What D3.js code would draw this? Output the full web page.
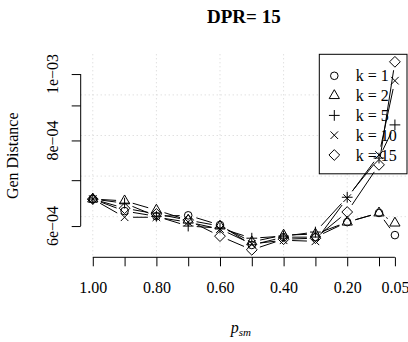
<!DOCTYPE html>
<html>
<head>
<meta charset="utf-8">
<script src="https://cdn.jsdelivr.net/npm/d3@7"></script>
<style>
body { margin: 0; background: #fff; }
svg text { font-family: "Liberation Serif", "Times New Roman", serif; fill: #000; }
</style>
</head>
<body>
<div id="container"></div>
<script>
// p_sm values on the x axis (reversed, 1.00 on the left)
var psm = [1.0, 0.9, 0.8, 0.7, 0.6, 0.5, 0.4, 0.3, 0.2, 0.1, 0.05];
var xTickLabels = ["1.00", "", "0.80", "", "0.60", "", "0.40", "", "0.20", "", "0.05"];

// Gen Distance for each k
var k1  = [6.57e-4, 6.31e-4, 6.20e-4, 6.22e-4, 6.02e-4, 5.63e-4, 5.78e-4, 5.78e-4, 6.08e-4, 6.27e-4, 5.82e-4];
var k2  = [6.57e-4, 6.53e-4, 6.33e-4, 6.12e-4, 6.00e-4, 5.69e-4, 5.82e-4, 5.84e-4, 6.08e-4, 6.27e-4, 6.06e-4];
var k5  = [6.57e-4, 6.48e-4, 6.20e-4, 6.00e-4, 5.96e-4, 5.76e-4, 5.80e-4, 5.88e-4, 6.61e-4, 7.54e-4, 8.43e-4];
var k10 = [6.57e-4, 6.18e-4, 6.18e-4, 6.08e-4, 5.94e-4, 5.65e-4, 5.72e-4, 5.70e-4, 6.59e-4, 7.62e-4, 9.78e-4];
var k15 = [6.57e-4, 6.37e-4, 6.25e-4, 6.12e-4, 5.80e-4, 5.54e-4, 5.74e-4, 5.76e-4, 6.29e-4, 7.37e-4, 1.042e-3];

var seriesNames = ["k = 1", "k = 2", "k = 5", "k = 10", "k = 15"];
var seriesShapes = ["circle", "triangle", "plus", "cross", "diamond"];

var yTicks = [6e-4, 7e-4, 8e-4, 9e-4, 1e-3];
var yTickLabels = ["6e\u221204", "", "8e\u221204", "", "1e\u221203"];

var series = [k1, k2, k5, k10, k15];

var svgWidth = 408, svgHeight = 342;
var plot = { left: 80.7, right: 407, top: 54.3, bottom: 257.3 };

var svg = d3.select("div#container")
    .append("svg")
    .attr("width", svgWidth)
    .attr("height", svgHeight);

// x scale: R style 4% padding, reversed
var xmin = d3.min(psm), xmax = d3.max(psm);
var xpad = 0.04 * (xmax - xmin);
var x = d3.scaleLinear()
    .domain([xmax + xpad, xmin - xpad])
    .range([plot.left, plot.right]);

// y scale: log axis, 4% padding in log space
var allVals = [].concat(k1, k2, k5, k10, k15);
var lmin = Math.log10(d3.min(allVals)), lmax = Math.log10(d3.max(allVals));
var lpad = 0.04 * (lmax - lmin);
var y = d3.scaleLog()
    .domain([Math.pow(10, lmin - lpad), Math.pow(10, lmax + lpad)])
    .range([plot.bottom, plot.top]);

// grid: vertical at pretty x ticks, horizontal split in 5 parts
var gridX = [1.0, 0.8, 0.6, 0.4, 0.2];
var ld = [lmin - lpad, lmax + lpad];
var gridY = [1, 2, 3, 4].map(function (i) { return Math.pow(10, ld[0] + i * (ld[1] - ld[0]) / 5); });

svg.selectAll("gridx")
    .data(gridX)
    .enter()
    .append("line")
    .attr("x1", function (d) { return x(d); })
    .attr("x2", function (d) { return x(d); })
    .attr("y1", plot.top)
    .attr("y2", plot.bottom)
    .attr("stroke", "#d3d3d3")
    .attr("stroke-dasharray", "1,3");

svg.selectAll("gridy")
    .data(gridY)
    .enter()
    .append("line")
    .attr("x1", plot.left)
    .attr("x2", plot.right)
    .attr("y1", function (d) { return y(d); })
    .attr("y2", function (d) { return y(d); })
    .attr("stroke", "#d3d3d3")
    .attr("stroke-dasharray", "1,3");

// X axis
var xAxis = svg.append("g")
    .attr("transform", "translate(0," + plot.bottom + ")")
    .call(d3.axisBottom(x)
        .tickValues(psm)
        .tickSize(9)
        .tickPadding(15.3)
        .tickFormat(function (d, i) { return xTickLabels[i]; }));
xAxis.select(".domain").remove();
xAxis.append("line")
    .attr("x1", x(psm[0]))
    .attr("x2", x(psm[psm.length - 1]))
    .attr("stroke", "#000");
xAxis.selectAll("text")
    .style("font-size", "16px")
    .style("font-family", "Liberation Serif")
    .attr("fill", "#000");

// Y axis
var yAxis = svg.append("g")
    .attr("transform", "translate(" + plot.left + ",0)")
    .call(d3.axisLeft(y)
        .tickValues(yTicks)
        .tickSize(9)
        .tickFormat(""));
yAxis.select(".domain").remove();
yAxis.append("line")
    .attr("y1", y(yTicks[0]))
    .attr("y2", y(yTicks[yTicks.length - 1]))
    .attr("stroke", "#000");

svg.selectAll("ylabels")
    .data(yTicks)
    .enter()
    .append("text")
    .attr("transform", function (d) { return "translate(57.5," + y(d) + ") rotate(-90)"; })
    .attr("text-anchor", "middle")
    .style("font-size", "16px")
    .text(function (d, i) { return yTickLabels[i]; });

// titles
svg.append("text")
    .attr("x", (plot.left + plot.right) / 2)
    .attr("y", 23)
    .attr("text-anchor", "middle")
    .style("font-size", "19px")
    .style("font-weight", "bold")
    .text("DPR= 15");

svg.append("text")
    .attr("transform", "translate(17.5," + (plot.top + plot.bottom) / 2 + ") rotate(-90)")
    .attr("text-anchor", "middle")
    .style("font-size", "16px")
    .text("Gen Distance");

var xlab = svg.append("text")
    .attr("x", (plot.left + plot.right) / 2 - 3)
    .attr("y", 333)
    .attr("text-anchor", "middle")
    .style("font-style", "italic");
xlab.append("tspan").style("font-size", "16px").text("p");
xlab.append("tspan").style("font-size", "11px").attr("dy", 2.5).text("sm");

// marker shapes, R pch 1..5 style
var rad = 3.8;
function symbolPath(shape, cx, cy) {
    var p = d3.path();
    if (shape === "circle") {
        p.moveTo(cx + rad, cy);
        p.arc(cx, cy, rad, 0, 2 * Math.PI);
    } else if (shape === "triangle") {
        var r = 1.5551 * rad, xc = 1.3468 * rad, yc = 0.7776 * rad;
        p.moveTo(cx, cy - r);
        p.lineTo(cx + xc, cy + yc);
        p.lineTo(cx - xc, cy + yc);
        p.closePath();
    } else if (shape === "plus") {
        var h = Math.SQRT2 * rad;
        p.moveTo(cx - h, cy); p.lineTo(cx + h, cy);
        p.moveTo(cx, cy - h); p.lineTo(cx, cy + h);
    } else if (shape === "cross") {
        p.moveTo(cx - rad, cy - rad); p.lineTo(cx + rad, cy + rad);
        p.moveTo(cx - rad, cy + rad); p.lineTo(cx + rad, cy - rad);
    } else if (shape === "diamond") {
        var d = Math.SQRT2 * rad;
        p.moveTo(cx, cy - d);
        p.lineTo(cx + d, cy);
        p.lineTo(cx, cy + d);
        p.lineTo(cx - d, cy);
        p.closePath();
    }
    return p.toString();
}

// legend (drawn before the lines, the lines run over it)
var legW = 87.7, legH = 119.5, rowH = 19.8;
var legX = plot.right - legW, legY = plot.top;
svg.append("rect")
    .attr("x", legX)
    .attr("y", legY)
    .attr("width", legW)
    .attr("height", legH)
    .attr("fill", "#fff")
    .attr("stroke", "#000");

svg.selectAll("legendDots")
    .data(seriesShapes)
    .enter()
    .append("path")
    .attr("d", function (d, i) { return symbolPath(d, legX + 15, legY + 21.5 + i * rowH); })
    .attr("fill", "none")
    .attr("stroke", "#000");

svg.selectAll("legendLabels")
    .data(seriesNames)
    .enter()
    .append("text")
    .attr("x", legX + 36.5)
    .attr("y", function (d, i) { return legY + 21.5 + i * rowH + 5.5; })
    .style("font-size", "16px")
    .text(function (d) { return d; });

// lines with gaps around points (R type = "b")
var gap = 8.5;
series.forEach(function (vals, s) {
    var pts = vals.map(function (v, i) { return [x(psm[i]), y(v)]; });
    for (var i = 0; i < pts.length - 1; i++) {
        var dx = pts[i + 1][0] - pts[i][0], dy = pts[i + 1][1] - pts[i][1];
        var L = Math.sqrt(dx * dx + dy * dy);
        if (L <= 2 * gap) continue;
        var ux = dx / L, uy = dy / L;
        svg.append("line")
            .attr("x1", pts[i][0] + ux * gap)
            .attr("y1", pts[i][1] + uy * gap)
            .attr("x2", pts[i + 1][0] - ux * gap)
            .attr("y2", pts[i + 1][1] - uy * gap)
            .attr("stroke", "#000")
            .attr("stroke-width", 1);
    }
    svg.selectAll("pts" + s)
        .data(vals)
        .enter()
        .append("path")
        .attr("d", function (v, i) { return symbolPath(seriesShapes[s], x(psm[i]), y(v)); })
        .attr("fill", "none")
        .attr("stroke", "#000");
});
</script>
</body>
</html>
